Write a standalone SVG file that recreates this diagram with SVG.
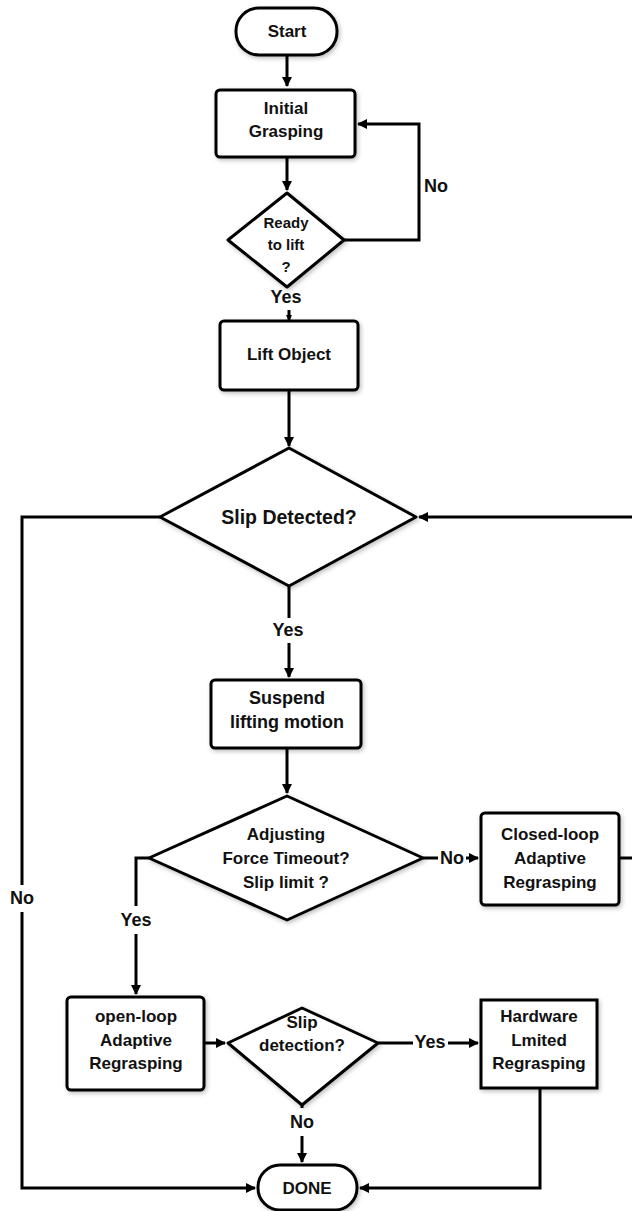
<svg xmlns="http://www.w3.org/2000/svg" width="632" height="1211" viewBox="0 0 632 1211">
<defs>
<marker id="ah" markerWidth="10" markerHeight="10" refX="9" refY="5" orient="auto" markerUnits="userSpaceOnUse" viewBox="0 0 10 10">
<path d="M0,0 L10,5 L0,10 z" fill="#000"/>
</marker>
<marker id="ahs" markerWidth="6" markerHeight="6" refX="5" refY="3" orient="auto" markerUnits="userSpaceOnUse" viewBox="0 0 6 6">
<path d="M0,0 L6,3 L0,6 z" fill="#000"/>
</marker>
<filter id="sh" x="-10%" y="-10%" width="130%" height="130%">
<feDropShadow dx="1.5" dy="2" stdDeviation="2" flood-color="#000" flood-opacity="0.25"/>
</filter>
</defs>
<style>
.n{fill:#fff;stroke:#000;stroke-width:3;filter:url(#sh)}
.t{font-family:"Liberation Sans",Arial,sans-serif;font-weight:bold;font-size:17px;fill:#111;text-anchor:middle;dominant-baseline:central}
.s{font-size:15px}
.c{fill:none;stroke:#000;stroke-width:3}
.l{font-family:"Liberation Sans",Arial,sans-serif;font-weight:bold;font-size:18px;fill:#111;text-anchor:middle;dominant-baseline:central}
</style>
<rect width="632" height="1211" fill="#fff"/>
<g id="connectors">
<path class="c" d="M287,55 V86" marker-end="url(#ah)"/>
<path class="c" d="M287,157 V190" marker-end="url(#ah)"/>
<path class="c" d="M344,240 H419 V124 H358" marker-end="url(#ah)"/>
<path class="c" d="M289,310 V320" stroke-width="1.5" marker-end="url(#ahs)"/>
<path class="c" d="M289,390 V446" marker-end="url(#ah)"/>
<path class="c" d="M632,517 H419" marker-end="url(#ah)"/>
<path class="c" d="M160,517 H22 V885"/>
<path class="c" d="M22,912 V1188 H255" marker-end="url(#ah)"/>
<path class="c" d="M289,586 V618"/>
<path class="c" d="M289,643 V677" marker-end="url(#ah)"/>
<path class="c" d="M287,748 V793" marker-end="url(#ah)"/>
<path class="c" d="M423,858 H438"/>
<path class="c" d="M466,858 H478" marker-end="url(#ah)"/>
<path class="c" d="M619,858 H632"/>
<path class="c" d="M149,858 H136 V906"/>
<path class="c" d="M136,934 V994" marker-end="url(#ah)"/>
<path class="c" d="M204,1043 H225" marker-end="url(#ah)"/>
<path class="c" d="M378,1043 H413"/>
<path class="c" d="M448,1043 H478" marker-end="url(#ah)"/>
<path class="c" d="M302,1105 V1108"/>
<path class="c" d="M302,1136 V1162" marker-end="url(#ah)"/>
<path class="c" d="M540,1088 V1188 H360" marker-end="url(#ah)"/>
<text class="l" x="436" y="186">No</text>
<text class="l" x="286" y="297">Yes</text>
<text class="l" x="22" y="898">No</text>
<text class="l" x="288" y="630">Yes</text>
<text class="l" x="452" y="858">No</text>
<text class="l" x="136" y="920">Yes</text>
<text class="l" x="430" y="1042">Yes</text>
<text class="l" x="302" y="1122">No</text>
</g>
<g id="start">
<rect class="n" x="236" y="8" width="101" height="47" rx="23"/>
<text class="t" x="287" y="31">Start</text>
</g>
<g id="initial">
<rect class="n" x="216" y="90" width="139" height="67" rx="4"/>
<text class="t" x="286" y="108">Initial</text>
<text class="t" x="286" y="131">Grasping</text>
</g>
<g id="ready">
<polygon class="n" points="287,193 344,240 287,287 228,240" stroke-linejoin="round"/>
<text class="t s" x="286" y="222">Ready</text>
<text class="t s" x="286" y="244">to lift</text>
<text class="t s" x="286" y="266">?</text>
</g>
<g id="lift">
<rect class="n" x="220" y="321" width="138" height="69" rx="4"/>
<text class="t" x="289" y="354">Lift Object</text>
</g>
<g id="slip">
<polygon class="n" points="289,448 416,517 289,586 160,517" stroke-linejoin="round"/>
<text class="t" x="289" y="517" style="font-size:19.5px">Slip Detected?</text>
</g>
<g id="suspend">
<rect class="n" x="211" y="680" width="150" height="68" rx="4"/>
<text class="t" x="287" y="698" style="font-size:18px">Suspend</text>
<text class="t" x="287" y="722" style="font-size:18px">lifting motion</text>
</g>
<g id="adjust">
<polygon class="n" points="287,796 423,858 287,920 149,858" stroke-linejoin="round"/>
<text class="t" x="286" y="834">Adjusting</text>
<text class="t" x="286" y="858">Force Timeout?</text>
<text class="t" x="286" y="882">Slip limit ?</text>
</g>
<g id="closed">
<rect class="n" x="481" y="813" width="138" height="92" rx="4"/>
<text class="t" x="550" y="834">Closed-loop</text>
<text class="t" x="550" y="858">Adaptive</text>
<text class="t" x="550" y="882">Regrasping</text>
</g>
<g id="open">
<rect class="n" x="67" y="997" width="137" height="93" rx="4"/>
<text class="t" x="136" y="1016">open-loop</text>
<text class="t" x="136" y="1040">Adaptive</text>
<text class="t" x="136" y="1063">Regrasping</text>
</g>
<g id="slipdet">
<polygon class="n" points="302,1008 378,1043 302,1105 228,1043" stroke-linejoin="round"/>
<text class="t" x="302" y="1022">Slip</text>
<text class="t" x="302" y="1045">detection?</text>
</g>
<g id="hardware">
<rect class="n" x="481" y="1000" width="116" height="88"/>
<text class="t" x="539" y="1016">Hardware</text>
<text class="t" x="539" y="1040">Lmited</text>
<text class="t" x="539" y="1063">Regrasping</text>
</g>
<g id="done">
<rect class="n" x="258" y="1165" width="99" height="45" rx="22"/>
<text class="t" x="307" y="1188">DONE</text>
</g>
</svg>
